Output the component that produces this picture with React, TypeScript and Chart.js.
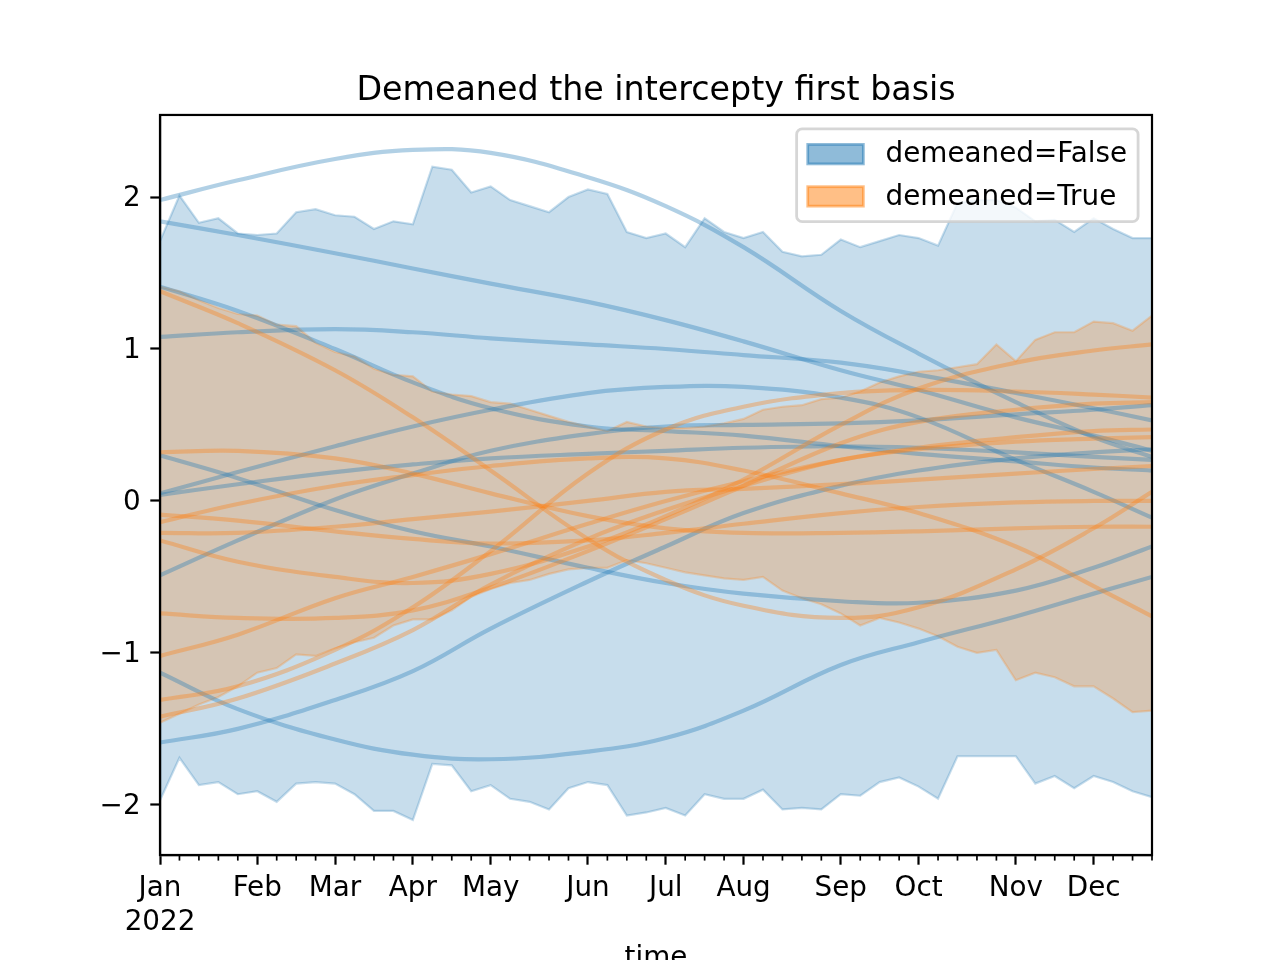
import React, { useEffect, useRef } from 'react';
import { Chart, registerables } from 'chart.js';

Chart.register(...registerables);

const TITLE = 'Demeaned the intercepty first basis';
const X_TITLE = 'time';
const LEGEND_LABELS = ['demeaned=False', 'demeaned=True'];
const N_WEEKS = 52;
const MONTH_TICKS = [0, 5, 9, 13, 17, 22, 26, 30, 35, 39, 44, 48];
const MONTH_LABELS = ['Jan', 'Feb', 'Mar', 'Apr', 'May', 'Jun', 'Jul', 'Aug', 'Sep', 'Oct', 'Nov', 'Dec'];
const YEAR_LABEL = '2022';
const Y_TICKS = [-2, -1, 0, 1, 2];
const Y_MIN = -2.33;
const Y_MAX = 2.54;

// HDI bands (weekly)
const BLUE_UPPER = [1.71, 2.01, 1.83, 1.86, 1.76, 1.75, 1.76, 1.90, 1.92, 1.88, 1.87, 1.79, 1.84, 1.82, 2.20, 2.18, 2.03, 2.07, 1.98, 1.94, 1.90, 2.00, 2.05, 2.02, 1.77, 1.73, 1.76, 1.67, 1.86, 1.77, 1.73, 1.77, 1.64, 1.61, 1.62, 1.72, 1.67, 1.71, 1.75, 1.73, 1.68, 1.96, 1.98, 1.98, 1.93, 1.84, 1.85, 1.77, 1.86, 1.79, 1.73, 1.73];
const BLUE_LOWER = [-1.97, -1.69, -1.87, -1.85, -1.93, -1.91, -1.98, -1.86, -1.85, -1.86, -1.93, -2.04, -2.04, -2.10, -1.73, -1.74, -1.91, -1.87, -1.96, -1.98, -2.03, -1.89, -1.85, -1.87, -2.07, -2.05, -2.02, -2.07, -1.93, -1.96, -1.96, -1.90, -2.03, -2.02, -2.03, -1.93, -1.94, -1.85, -1.82, -1.88, -1.96, -1.68, -1.68, -1.68, -1.68, -1.86, -1.81, -1.89, -1.81, -1.85, -1.91, -1.95];
const ORANGE_UPPER = [1.41, 1.38, 1.32, 1.27, 1.23, 1.22, 1.16, 1.15, 1.04, 0.98, 0.95, 0.87, 0.83, 0.82, 0.72, 0.70, 0.69, 0.65, 0.64, 0.60, 0.56, 0.52, 0.49, 0.46, 0.52, 0.49, 0.48, 0.48, 0.49, 0.51, 0.54, 0.60, 0.62, 0.63, 0.67, 0.68, 0.72, 0.78, 0.82, 0.85, 0.86, 0.88, 0.90, 1.03, 0.92, 1.06, 1.11, 1.11, 1.18, 1.17, 1.12, 1.22];
const ORANGE_LOWER = [-1.46, -1.40, -1.34, -1.29, -1.22, -1.13, -1.10, -1.01, -1.02, -0.97, -0.93, -0.90, -0.82, -0.78, -0.78, -0.72, -0.63, -0.58, -0.54, -0.52, -0.48, -0.45, -0.44, -0.44, -0.39, -0.41, -0.44, -0.47, -0.49, -0.51, -0.52, -0.50, -0.59, -0.64, -0.68, -0.74, -0.82, -0.77, -0.80, -0.84, -0.89, -0.96, -1.00, -0.98, -1.18, -1.13, -1.16, -1.22, -1.22, -1.30, -1.39, -1.38];

// sample curves, read at these week indices
const LINE_WEEKS = [0, 4, 9, 13, 17, 22, 26, 30, 35, 39, 44, 48, 51];

const B1 = [1.98, 2.11, 2.25, 2.31, 2.29, 2.13, 1.94, 1.67, 1.25, 0.97, 0.65, 0.42, 0.29];
const B2 = [1.84, 1.75, 1.63, 1.53, 1.43, 1.31, 1.19, 1.05, 0.86, 0.73, 0.55, 0.43, 0.33];
const B3 = [1.41, 1.25, 1.00, 0.78, 0.61, 0.49, 0.46, 0.43, 0.36, 0.31, 0.26, 0.22, 0.20];
const B4 = [1.08, 1.11, 1.13, 1.11, 1.07, 1.03, 1.00, 0.96, 0.91, 0.83, 0.71, 0.61, 0.53];
const B5 = [0.30, 0.15, -0.06, -0.20, -0.30, -0.44, -0.54, -0.61, -0.66, -0.67, -0.59, -0.44, -0.30];
const B6 = [0.05, 0.19, 0.36, 0.49, 0.60, 0.71, 0.75, 0.75, 0.68, 0.55, 0.27, 0.06, -0.11];
const B7 = [0.04, 0.11, 0.19, 0.24, 0.28, 0.31, 0.33, 0.35, 0.36, 0.35, 0.32, 0.29, 0.27];
const B8 = [-0.49, -0.26, 0.01, 0.18, 0.33, 0.44, 0.49, 0.50, 0.51, 0.53, 0.57, 0.60, 0.63];
const B9 = [-1.13, -1.37, -1.57, -1.67, -1.70, -1.65, -1.56, -1.38, -1.08, -0.93, -0.76, -0.61, -0.50];
const B10 = [-1.59, -1.50, -1.31, -1.12, -0.84, -0.53, -0.30, -0.08, 0.10, 0.20, 0.28, 0.32, 0.34];

const O1 = [1.38, 1.17, 0.86, 0.55, 0.20, -0.25, -0.52, -0.69, -0.77, -0.70, -0.45, -0.18, 0.06];
const O2 = [0.32, 0.33, 0.28, 0.18, 0.05, -0.10, -0.18, -0.21, -0.21, -0.20, -0.18, -0.17, -0.17];
const O3 = [-0.09, -0.13, -0.20, -0.25, -0.28, -0.26, -0.21, -0.15, -0.08, -0.04, -0.01, 0.00, 0.00];
const O4 = [-0.14, -0.02, 0.10, 0.17, 0.23, 0.28, 0.28, 0.20, 0.05, -0.08, -0.30, -0.56, -0.76];
const O5 = [-0.26, -0.40, -0.50, -0.54, -0.48, -0.30, -0.10, 0.14, 0.50, 0.74, 0.91, 0.99, 1.03];
const O6 = [-0.21, -0.21, -0.17, -0.12, -0.07, 0.00, 0.06, 0.08, 0.11, 0.14, 0.18, 0.21, 0.23];
const O7 = [-0.74, -0.77, -0.77, -0.72, -0.57, -0.33, -0.12, 0.10, 0.38, 0.52, 0.60, 0.64, 0.65];
const O8 = [-1.02, -0.88, -0.64, -0.50, -0.35, -0.15, 0.00, 0.13, 0.27, 0.35, 0.42, 0.46, 0.47];
const O9 = [-1.31, -1.22, -0.98, -0.70, -0.33, 0.18, 0.47, 0.62, 0.71, 0.73, 0.72, 0.70, 0.68];
const O10 = [-1.42, -1.30, -1.07, -0.85, -0.55, -0.25, -0.06, 0.10, 0.27, 0.34, 0.39, 0.41, 0.42];

const BLUE_LINES = [B1, B2, B3, B4, B5, B6, B7, B8, B9, B10];
const ORANGE_LINES = [O1, O2, O3, O4, O5, O6, O7, O8, O9, O10];

const FONT = 'DejaVu Sans';
const FS = 27.8;
const blue = (a: number) => `rgba(31,119,180,${a})`;
const orange = (a: number) => `rgba(255,127,14,${a})`;

const overlayPlugin = {
  id: 'overlay',
  afterDraw(chart: any) {
    const { ctx, chartArea: a, scales } = chart;
    ctx.save();
    // minor ticks (weekly)
    ctx.strokeStyle = '#000';
    ctx.lineWidth = 1.7;
    for (let i = 0; i < N_WEEKS; i++) {
      if (MONTH_TICKS.includes(i)) continue;
      const px = scales.x.getPixelForValue(i);
      ctx.beginPath();
      ctx.moveTo(px, a.bottom);
      ctx.lineTo(px, a.bottom + 5.6);
      ctx.stroke();
    }
    // axes frame
    ctx.lineWidth = 2.2;
    ctx.strokeRect(a.left, a.top, a.right - a.left, a.bottom - a.top);

    // legend
    ctx.font = `${FS}px "${FONT}"`;
    const textW = Math.max(...LEGEND_LABELS.map((t) => ctx.measureText(t).width));
    const pad = 0.4 * FS;
    const hl = 2 * FS;
    const htp = 0.8 * FS;
    const rowH = 1.02 * FS;
    const sp = 0.5 * FS;
    const right = a.right - 0.5 * FS;
    const top = a.top + 0.5 * FS;
    const w = pad + hl + htp + textW + pad;
    const h = 2 * pad + 2 * rowH + sp;
    const left = right - w;
    ctx.beginPath();
    ctx.roundRect(left, top, w, h, 0.2 * FS);
    ctx.fillStyle = 'rgba(255,255,255,0.8)';
    ctx.fill();
    ctx.strokeStyle = 'rgba(204,204,204,0.8)';
    ctx.lineWidth = 2.8;
    ctx.stroke();
    const cols = [blue, orange];
    LEGEND_LABELS.forEach((label, k) => {
      const cy = top + pad + rowH / 2 + k * (rowH + sp);
      const ph = 0.7 * FS;
      ctx.fillStyle = cols[k](0.5);
      ctx.fillRect(left + pad, cy - ph / 2, hl, ph);
      ctx.strokeStyle = cols[k](0.5);
      ctx.lineWidth = 2.8;
      ctx.strokeRect(left + pad, cy - ph / 2, hl, ph);
      ctx.fillStyle = '#000';
      ctx.textAlign = 'left';
      ctx.textBaseline = 'middle';
      ctx.fillText(label, left + pad + hl + htp, cy + 1);
    });
    ctx.restore();
  },
};

export default function App() {
  const ref = useRef<HTMLCanvasElement>(null);

  useEffect(() => {
    document.body.style.margin = '0';
    const canvas = ref.current;
    if (!canvas) return;

    const weekly = (arr: number[]) => arr.map((y, i) => ({ x: i, y }));
    const curve = (arr: number[]) => LINE_WEEKS.map((wk, k) => ({ x: wk, y: arr[k] }));

    const bandEdge = (data: number[], col: string, order: number, fill: any) => ({
      data: weekly(data),
      borderColor: col,
      backgroundColor: col,
      borderWidth: 2.2,
      pointRadius: 0,
      tension: 0,
      fill,
      order,
    });

    const sample = (l: number[], col: string, order: number) => ({
      data: curve(l),
      borderColor: col,
      borderWidth: 4.2,
      pointRadius: 0,
      tension: 0.4,
      fill: false,
      order,
    });

    const datasets: any[] = [
      bandEdge(BLUE_LOWER, blue(0.25), 50, false),
      bandEdge(BLUE_UPPER, blue(0.25), 50, '-1'),
      bandEdge(ORANGE_LOWER, orange(0.25), 40, false),
      bandEdge(ORANGE_UPPER, orange(0.25), 40, '-1'),
      ...BLUE_LINES.map((l) => sample(l, blue(0.35), 20)),
      ...ORANGE_LINES.map((l) => sample(l, orange(0.35), 10)),
    ];

    const tickFont = { family: FONT, size: FS, lineHeight: 1.2 };

    const chart = new Chart(canvas, {
      type: 'line',
      data: { datasets },
      plugins: [overlayPlugin],
      options: {
        animation: false,
        responsive: false,
        devicePixelRatio: 1,
        layout: { padding: { left: 0, right: 128, top: 0, bottom: 0 } },
        plugins: {
          legend: { display: false },
          tooltip: { enabled: false },
          title: {
            display: true,
            text: TITLE,
            fullSize: false,
            color: '#000',
            font: { family: FONT, size: 33.3, weight: 'normal', lineHeight: 1.2 },
            padding: { top: 71, bottom: 4 },
          },
        },
        scales: {
          x: {
            type: 'linear',
            min: 0,
            max: N_WEEKS - 1,
            afterBuildTicks: (scale: any) => {
              scale.ticks = MONTH_TICKS.map((v) => ({ value: v }));
            },
            afterFit: (scale: any) => {
              scale.height = 105;
            },
            ticks: {
              autoSkip: false,
              maxRotation: 0,
              minRotation: 0,
              padding: 7.6,
              color: '#000',
              font: tickFont,
              callback: (_v: any, i: number) => (i === 0 ? [MONTH_LABELS[0], YEAR_LABEL] : MONTH_LABELS[i]),
            },
            grid: {
              drawOnChartArea: false,
              drawTicks: true,
              tickLength: 9.7,
              tickWidth: 2.2,
              tickColor: '#000',
            },
            border: { display: true, color: '#000', width: 2.2 },
            title: {
              display: true,
              text: X_TITLE,
              color: '#000',
              font: { family: FONT, size: FS, lineHeight: 1.2 },
              padding: { top: 0, bottom: -15 },
            },
          },
          y: {
            type: 'linear',
            min: Y_MIN,
            max: Y_MAX,
            afterBuildTicks: (scale: any) => {
              scale.ticks = Y_TICKS.map((v) => ({ value: v }));
            },
            afterFit: (scale: any) => {
              scale.width = 160;
            },
            ticks: {
              padding: 9.7,
              labelOffset: 2,
              color: '#000',
              font: tickFont,
              callback: (v: any) => (Number(v) < 0 ? '\u2212' + Math.abs(Number(v)) : String(v)),
            },
            grid: {
              drawOnChartArea: false,
              drawTicks: true,
              tickLength: 9.7,
              tickWidth: 2.2,
              tickColor: '#000',
            },
            border: { display: true, color: '#000', width: 2.2 },
          },
        },
      } as any,
    });

    return () => chart.destroy();
  }, []);

  return (
    <div style={{ position: 'absolute', left: 0, top: 0, width: 1280, height: 960, background: '#fff' }}>
      <canvas ref={ref} width={1280} height={960} style={{ display: 'block', width: 1280, height: 960 }} />
    </div>
  );
}
